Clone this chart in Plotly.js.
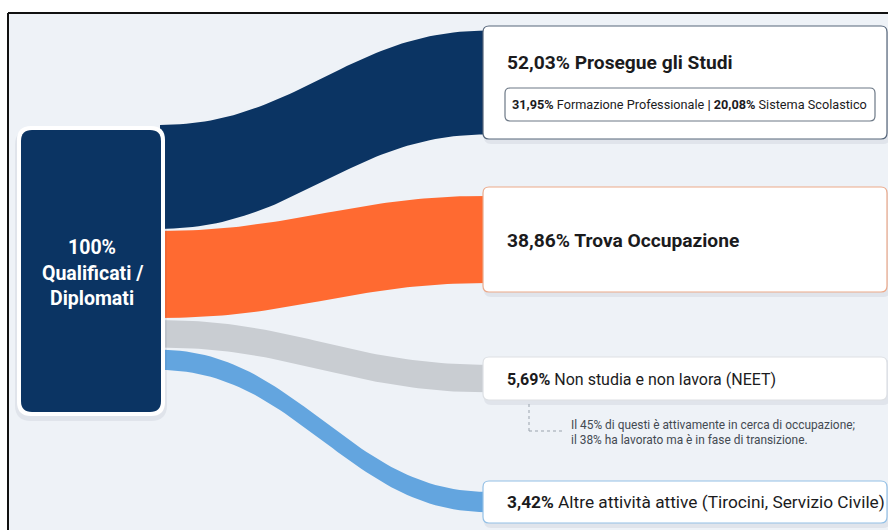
<!DOCTYPE html>
<html><head><meta charset="utf-8">
<script src="https://cdn.plot.ly/plotly-3.0.1.min.js"></script>
<style>html,body{margin:0;padding:0;background:#fff}#chart{width:888px;height:530px}</style>
</head><body><div id="chart"></div>
<script>
// ---- data ----
const sourceLines = ['100%', 'Qualificati /', 'Diplomati'];
const targetNames = ['Prosegue gli Studi', 'Trova Occupazione', 'Non studia e non lavora (NEET)', 'Altre attività attive (Tirocini, Servizio Civile)'];
const targetValues = [52.03, 38.86, 5.69, 3.42];
const studyNames = ['Formazione Professionale', 'Sistema Scolastico'];
const studyValues = [31.95, 20.08];
const noteLines = ['Il 45% di questi è attivamente in cerca di occupazione;', 'il 38% ha lavorato ma è in fase di transizione.'];

// ---- styles / layout ----
const flowColors = ['#0b3463', '#ff6a31', '#c9cdd2', '#63a5df'];
const boxBorders = ['#56667a', '#eca98a', '#dde0e4', '#93c0e6'];
const boxY = [[26, 139], [187, 292], [357, 400], [481, 523]];
const labelSizes = [19.2, 19.2, 16, 17.3];
const boxX = [483, 887];
const srcX = [21, 161], srcY = [130, 412];
const FONT = 'Roboto, "Liberation Sans", sans-serif';
const fmt = v => v.toFixed(2).replace('.', ',') + '%';
const bandW = v => 9.7 * Math.pow(v, 0.6);

function rr(x0, y0, x1, y1, r) {
  return `M${x0 + r},${y0} L${x1 - r},${y0} Q${x1},${y0} ${x1},${y0 + r} L${x1},${y1 - r} Q${x1},${y1} ${x1 - r},${y1} L${x0 + r},${y1} Q${x0},${y1} ${x0},${y1 - r} L${x0},${y0 + r} Q${x0},${y0} ${x0 + r},${y0} Z`;
}

const traces = [];
const xa = 160, xb = 486, c = 0.42;
let yStack = 125;
targetValues.forEach((v, i) => {
  const w = bandW(v);
  const la = yStack, lb = yStack + w;
  yStack = lb + 2;
  const cy = (boxY[i][0] + boxY[i][1]) / 2;
  const ra = cy - w / 2, rb = cy + w / 2;
  const N = 60;
  const cx1 = xa + c * (xb - xa), cx2 = xb - c * (xb - xa);
  const bez = (t, p0, p1, p2, p3) => Math.pow(1 - t, 3) * p0 + 3 * Math.pow(1 - t, 2) * t * p1 + 3 * (1 - t) * t * t * p2 + t * t * t * p3;
  const xs = [], ys = [];
  for (let k = 0; k <= N; k++) { const t = k / N; xs.push(bez(t, xa, cx1, cx2, xb)); ys.push(bez(t, la, la, ra, ra)); }
  for (let k = N; k >= 0; k--) { const t = k / N; xs.push(bez(t, xa, cx1, cx2, xb)); ys.push(bez(t, lb, lb, rb, rb)); }
  traces.push({ type: 'scatter', mode: 'lines', x: xs, y: ys, fill: 'toself', fillcolor: flowColors[i], line: { width: 0 }, hoverinfo: 'skip', showlegend: false });
});

const shapes = [];
// background + frame
shapes.push({ type: 'rect', xref: 'x', yref: 'y', x0: 9, x1: 888, y0: 14, y1: 530, fillcolor: '#eef2f7', line: { width: 0 }, layer: 'below' });
shapes.push({ type: 'line', x0: 8, x1: 888, y0: 13, y1: 13, line: { color: '#111', width: 2 }, layer: 'above' });
shapes.push({ type: 'line', x0: 8, x1: 8, y0: 13, y1: 530, line: { color: '#111', width: 2 }, layer: 'above' });

// source node with shadow and white rim
shapes.push({ type: 'path', path: rr(srcX[0] - 6, srcY[0] - 1, srcX[1] + 6, srcY[1] + 9, 16), fillcolor: 'rgba(40,60,90,0.07)', line: { width: 0 }, layer: 'above' });
shapes.push({ type: 'path', path: rr(srcX[0] - 4, srcY[0] - 4, srcX[1] + 4, srcY[1] + 4, 14), fillcolor: '#ffffff', line: { width: 0 }, layer: 'above' });
shapes.push({ type: 'path', path: rr(srcX[0], srcY[0], srcX[1], srcY[1], 11), fillcolor: '#0b3463', line: { width: 0 }, layer: 'above' });

// target boxes
boxY.forEach((b, i) => {
  shapes.push({ type: 'path', path: rr(boxX[0] + 1, b[0] + 2, boxX[1] + 3, b[1] + 5, 7), fillcolor: 'rgba(40,60,90,0.07)', line: { width: 0 }, layer: 'above' });
  shapes.push({ type: 'path', path: rr(boxX[0], b[0], boxX[1], b[1], 6), fillcolor: '#ffffff', line: { color: boxBorders[i], width: 1.2 }, layer: 'above' });
});
// sub box
shapes.push({ type: 'path', path: rr(505, 88, 875, 121, 5), fillcolor: '#ffffff', line: { color: '#6c7886', width: 1.2 }, layer: 'above' });
// dotted connector
shapes.push({ type: 'line', x0: 529, x1: 529, y0: 404, y1: 431, line: { color: '#9aa3ad', width: 1, dash: 'dot' }, layer: 'above' });
shapes.push({ type: 'line', x0: 529, x1: 563, y0: 431, y1: 431, line: { color: '#9aa3ad', width: 1, dash: 'dot' }, layer: 'above' });

const annotations = [];
const srcLineY = [247, 273, 298];
sourceLines.forEach((t, i) => annotations.push({ x: (srcX[0] + srcX[1]) / 2 + 1, y: srcLineY[i], text: '<b>' + t + '</b>', showarrow: false, xanchor: 'center', yanchor: 'middle', font: { family: FONT, size: 19.5, color: '#ffffff' } }));

const labY = [62, 240, 379, 502];
targetNames.forEach((n, i) => {
  const big = i < 2;
  const text = big ? `<b>${fmt(targetValues[i])} ${n}</b>` : `<b>${fmt(targetValues[i])}</b> ${n}`;
  annotations.push({ x: 505, y: labY[i], text, showarrow: false, xanchor: 'left', yanchor: 'middle', font: { family: FONT, size: labelSizes[i], color: '#1b1b1d' } });
});
annotations.push({ x: 689, y: 104.5, text: `<b>${fmt(studyValues[0])}</b> ${studyNames[0]} <b>|</b> <b>${fmt(studyValues[1])}</b> ${studyNames[1]}`, showarrow: false, xanchor: 'center', yanchor: 'middle', font: { family: FONT, size: 12.7, color: '#1b1b1d' } });
const noteY = [425, 440];
noteLines.forEach((t, i) => annotations.push({ x: 569, y: noteY[i], text: t, showarrow: false, xanchor: 'left', yanchor: 'middle', font: { family: FONT, size: 11.9, color: '#444a52' } }));

const layout = {
  width: 888, height: 530, margin: { l: 0, r: 0, t: 0, b: 0 },
  paper_bgcolor: '#ffffff', plot_bgcolor: '#ffffff',
  xaxis: { range: [0, 888], visible: false, fixedrange: true },
  yaxis: { range: [530, 0], visible: false, fixedrange: true },
  shapes, annotations, showlegend: false
};
Plotly.newPlot('chart', traces, layout, { displayModeBar: false, staticPlot: true });
</script></body></html>
